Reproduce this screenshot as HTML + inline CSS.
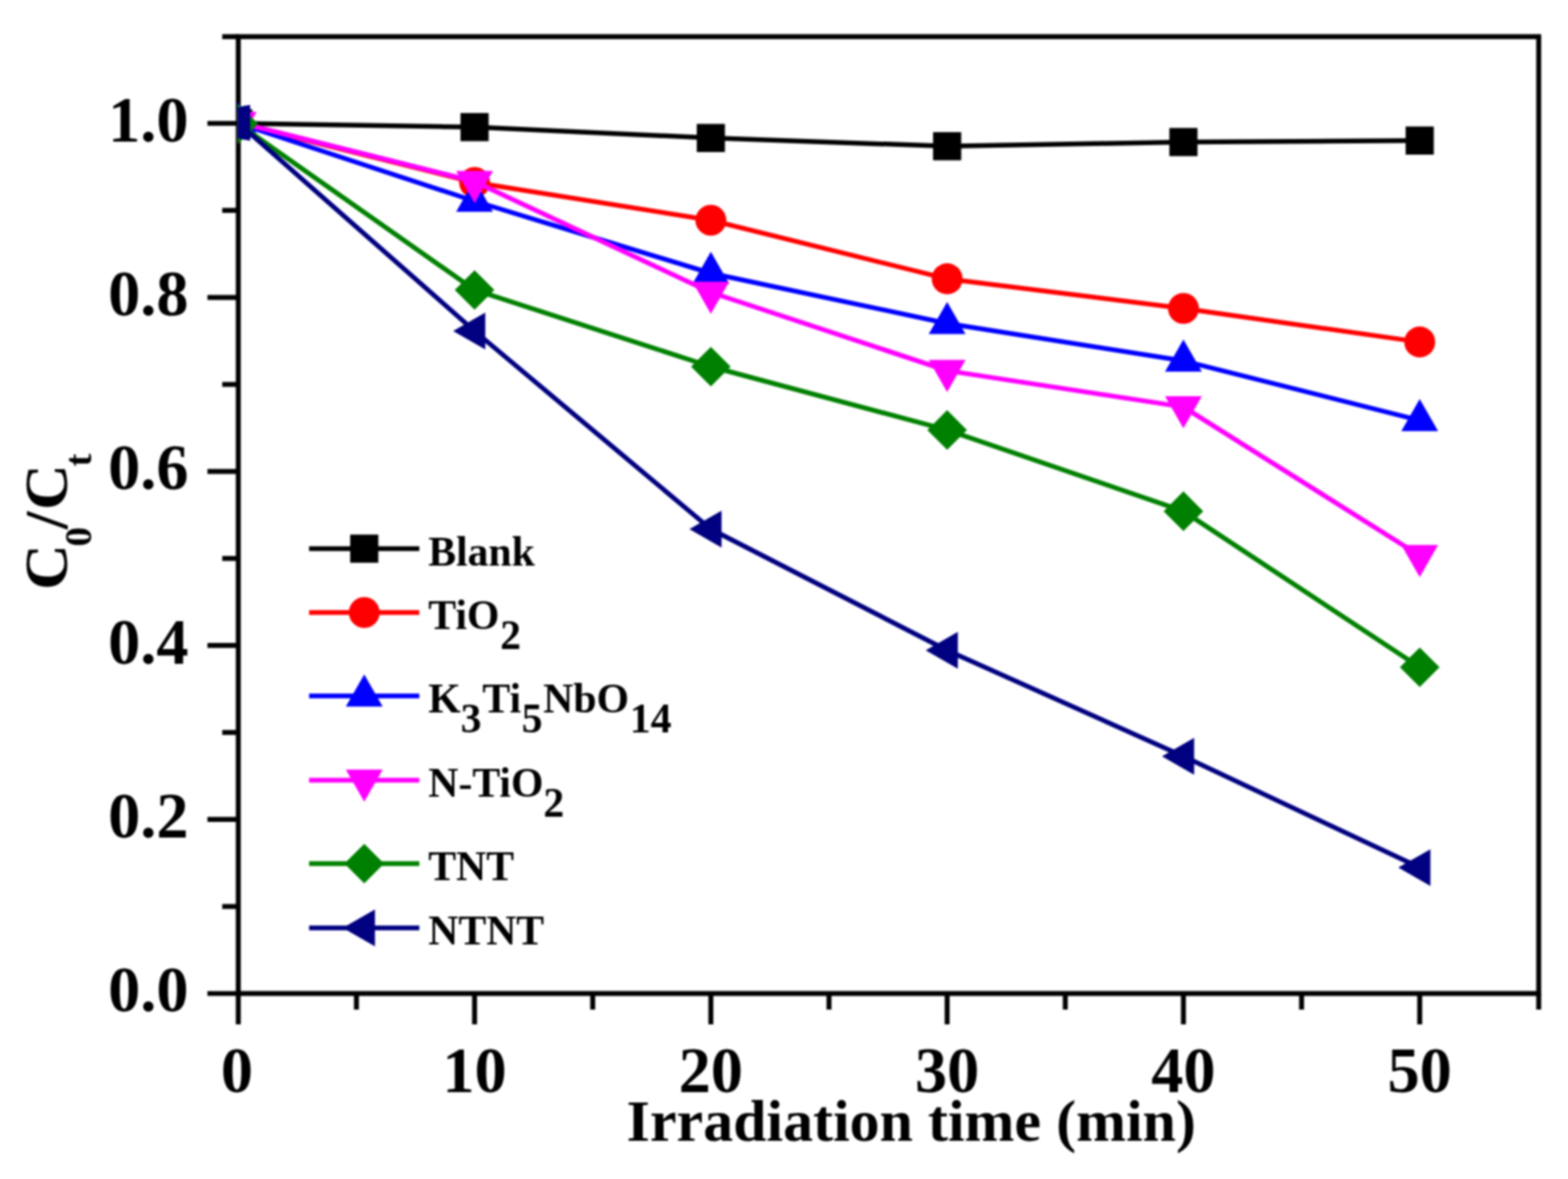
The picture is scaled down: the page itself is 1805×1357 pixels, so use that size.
<!DOCTYPE html>
<html><head><meta charset="utf-8"><title>C0/Ct vs Irradiation time</title>
<style>html,body{margin:0;padding:0;background:#fff;}svg{display:block;filter:blur(1px);}</style></head><body>
<svg width="1805" height="1357" viewBox="0 0 1805 1357" font-family="'Liberation Serif', 'Times New Roman', serif" font-weight="bold">
<rect width="1805" height="1357" fill="#fff"/>
<defs><clipPath id="pc"><rect x="273.50" y="42.20" width="1497.80" height="1101.30"/></clipPath></defs>
<g stroke="#000" stroke-width="5.7" stroke-linecap="butt"><rect x="274.30" y="42.20" width="1497.00" height="1101.30" fill="none" stroke="#000" stroke-width="5.7"/><line x1="238.80" y1="1143.50" x2="274.30" y2="1143.50"/><line x1="255.80" y1="1043.35" x2="274.30" y2="1043.35"/><line x1="238.80" y1="943.20" x2="274.30" y2="943.20"/><line x1="255.80" y1="843.05" x2="274.30" y2="843.05"/><line x1="238.80" y1="742.90" x2="274.30" y2="742.90"/><line x1="255.80" y1="642.75" x2="274.30" y2="642.75"/><line x1="238.80" y1="542.60" x2="274.30" y2="542.60"/><line x1="255.80" y1="442.45" x2="274.30" y2="442.45"/><line x1="238.80" y1="342.30" x2="274.30" y2="342.30"/><line x1="255.80" y1="242.15" x2="274.30" y2="242.15"/><line x1="238.80" y1="142.00" x2="274.30" y2="142.00"/><line x1="255.80" y1="42.20" x2="274.30" y2="42.20"/><line x1="274.30" y1="1143.50" x2="274.30" y2="1179.00"/><line x1="410.30" y1="1143.50" x2="410.30" y2="1162.00"/><line x1="546.30" y1="1143.50" x2="546.30" y2="1179.00"/><line x1="682.30" y1="1143.50" x2="682.30" y2="1162.00"/><line x1="818.30" y1="1143.50" x2="818.30" y2="1179.00"/><line x1="954.30" y1="1143.50" x2="954.30" y2="1162.00"/><line x1="1090.30" y1="1143.50" x2="1090.30" y2="1179.00"/><line x1="1226.30" y1="1143.50" x2="1226.30" y2="1162.00"/><line x1="1362.30" y1="1143.50" x2="1362.30" y2="1179.00"/><line x1="1498.30" y1="1143.50" x2="1498.30" y2="1162.00"/><line x1="1634.30" y1="1143.50" x2="1634.30" y2="1179.00"/><line x1="1771.30" y1="1143.50" x2="1771.30" y2="1162.00"/></g>
<g font-size="74" fill="#000"><text x="217" y="1164.30" text-anchor="end">0.0</text><text x="217" y="964.00" text-anchor="end">0.2</text><text x="217" y="763.70" text-anchor="end">0.4</text><text x="217" y="563.40" text-anchor="end">0.6</text><text x="217" y="363.10" text-anchor="end">0.8</text><text x="217" y="162.80" text-anchor="end">1.0</text><text x="272.80" y="1257" text-anchor="middle">0</text><text x="546.30" y="1257" text-anchor="middle">10</text><text x="818.30" y="1257" text-anchor="middle">20</text><text x="1090.30" y="1257" text-anchor="middle">30</text><text x="1362.30" y="1257" text-anchor="middle">40</text><text x="1634.30" y="1257" text-anchor="middle">50</text></g>
<text transform="translate(1049 1313.3) scale(1 0.965)" text-anchor="middle" font-size="69">Irradiation time (min)</text>
<text transform="translate(77.4 679) rotate(-90) scale(1 0.97)" font-size="73"><tspan x="0" y="0">C</tspan><tspan x="50" y="28" font-size="45">0</tspan><tspan x="70" y="0">/</tspan><tspan x="92" y="0">C</tspan><tspan x="142" y="28" font-size="45">t</tspan></text>
<g clip-path="url(#pc)"><polyline points="274.30,142.00 546.30,146.30 818.30,158.80 1090.30,168.30 1362.30,163.50 1634.30,161.80" fill="none" stroke="#000000" stroke-width="5.5" stroke-linejoin="round"/><rect x="258.10" y="125.80" width="32.40" height="32.40" fill="#000000"/><rect x="530.10" y="130.10" width="32.40" height="32.40" fill="#000000"/><rect x="802.10" y="142.60" width="32.40" height="32.40" fill="#000000"/><rect x="1074.10" y="152.10" width="32.40" height="32.40" fill="#000000"/><rect x="1346.10" y="147.30" width="32.40" height="32.40" fill="#000000"/><rect x="1618.10" y="145.60" width="32.40" height="32.40" fill="#000000"/><polyline points="274.30,142.00 546.30,210.00 818.30,253.50 1090.30,320.90 1362.30,355.00 1634.30,393.60" fill="none" stroke="#FF0000" stroke-width="5.5" stroke-linejoin="round"/><circle cx="274.30" cy="142.00" r="17.8" fill="#FF0000"/><circle cx="546.30" cy="210.00" r="17.8" fill="#FF0000"/><circle cx="818.30" cy="253.50" r="17.8" fill="#FF0000"/><circle cx="1090.30" cy="320.90" r="17.8" fill="#FF0000"/><circle cx="1362.30" cy="355.00" r="17.8" fill="#FF0000"/><circle cx="1634.30" cy="393.60" r="17.8" fill="#FF0000"/><polyline points="274.30,142.00 546.30,231.50 818.30,314.50 1090.30,372.20 1362.30,415.30 1634.30,483.80" fill="none" stroke="#0000FF" stroke-width="5.5" stroke-linejoin="round"/><polygon points="274.30,117.33 295.50,154.33 253.10,154.33" fill="#0000FF"/><polygon points="546.30,206.83 567.50,243.83 525.10,243.83" fill="#0000FF"/><polygon points="818.30,289.83 839.50,326.83 797.10,326.83" fill="#0000FF"/><polygon points="1090.30,347.53 1111.50,384.53 1069.10,384.53" fill="#0000FF"/><polygon points="1362.30,390.63 1383.50,427.63 1341.10,427.63" fill="#0000FF"/><polygon points="1634.30,459.13 1655.50,496.13 1613.10,496.13" fill="#0000FF"/><polyline points="274.30,141.00 546.30,209.00 818.30,336.50 1090.30,426.60 1362.30,468.40 1634.30,639.50" fill="none" stroke="#FF00FF" stroke-width="5.5" stroke-linejoin="round"/><polygon points="274.30,165.67 295.50,128.67 253.10,128.67" fill="#FF00FF"/><polygon points="546.30,233.67 567.50,196.67 525.10,196.67" fill="#FF00FF"/><polygon points="818.30,361.17 839.50,324.17 797.10,324.17" fill="#FF00FF"/><polygon points="1090.30,451.27 1111.50,414.27 1069.10,414.27" fill="#FF00FF"/><polygon points="1362.30,493.07 1383.50,456.07 1341.10,456.07" fill="#FF00FF"/><polygon points="1634.30,664.17 1655.50,627.17 1613.10,627.17" fill="#FF00FF"/><polyline points="274.30,142.50 546.30,333.70 818.30,422.00 1090.30,494.90 1362.30,588.40 1634.30,768.00" fill="none" stroke="#008000" stroke-width="5.5" stroke-linejoin="round"/><polygon points="274.30,119.70 297.10,142.50 274.30,165.30 251.50,142.50" fill="#008000"/><polygon points="546.30,310.90 569.10,333.70 546.30,356.50 523.50,333.70" fill="#008000"/><polygon points="818.30,399.20 841.10,422.00 818.30,444.80 795.50,422.00" fill="#008000"/><polygon points="1090.30,472.10 1113.10,494.90 1090.30,517.70 1067.50,494.90" fill="#008000"/><polygon points="1362.30,565.60 1385.10,588.40 1362.30,611.20 1339.50,588.40" fill="#008000"/><polygon points="1634.30,745.20 1657.10,768.00 1634.30,790.80 1611.50,768.00" fill="#008000"/><polyline points="274.30,141.50 546.30,381.00 818.30,609.00 1090.30,748.50 1362.30,870.50 1634.30,998.60" fill="none" stroke="#000080" stroke-width="5.5" stroke-linejoin="round"/><polygon points="273.5,124 280,122 288,120.8 288,162 280,160.5 273.5,159" fill="#000080"/><polygon points="521.63,381.00 558.63,359.80 558.63,402.20" fill="#000080"/><polygon points="793.63,609.00 830.63,587.80 830.63,630.20" fill="#000080"/><polygon points="1065.63,748.50 1102.63,727.30 1102.63,769.70" fill="#000080"/><polygon points="1337.63,870.50 1374.63,849.30 1374.63,891.70" fill="#000080"/><polygon points="1609.63,998.60 1646.63,977.40 1646.63,1019.80" fill="#000080"/></g>
<g><line x1="355.8" y1="631.5" x2="482.7" y2="631.5" stroke="#000000" stroke-width="5.5"/><rect x="403.10" y="615.30" width="32.40" height="32.40" fill="#000000"/><text x="493" y="650.7" font-size="48">Blank</text><line x1="355.8" y1="705.0" x2="482.7" y2="705.0" stroke="#FF0000" stroke-width="5.5"/><circle cx="419.30" cy="705.00" r="17.8" fill="#FF0000"/><text x="493" y="724.2" font-size="48">TiO<tspan dy="23" dx="1">2</tspan></text><line x1="355.8" y1="801.0" x2="482.7" y2="801.0" stroke="#0000FF" stroke-width="5.5"/><polygon points="419.30,776.33 440.50,813.33 398.10,813.33" fill="#0000FF"/><text x="493" y="820.2" font-size="48">K<tspan dy="23">3</tspan><tspan dy="-23" dx="1">Ti</tspan><tspan dy="23" dx="0.7">5</tspan><tspan dy="-23" dx="0.8">NbO</tspan><tspan dy="23" dx="0.9">14</tspan></text><line x1="355.8" y1="898.0" x2="482.7" y2="898.0" stroke="#FF00FF" stroke-width="5.5"/><polygon points="419.30,922.67 440.50,885.67 398.10,885.67" fill="#FF00FF"/><text x="493" y="917.2" font-size="48">N-TiO<tspan dy="23">2</tspan></text><line x1="355.8" y1="994.0" x2="482.7" y2="994.0" stroke="#008000" stroke-width="5.5"/><polygon points="419.30,971.20 442.10,994.00 419.30,1016.80 396.50,994.00" fill="#008000"/><text x="493" y="1013.2" font-size="48">TNT</text><line x1="355.8" y1="1068.0" x2="482.7" y2="1068.0" stroke="#000080" stroke-width="5.5"/><polygon points="394.63,1068.00 431.63,1046.80 431.63,1089.20" fill="#000080"/><text x="493" y="1087.2" font-size="48">NTNT</text></g>
</svg></body></html>
